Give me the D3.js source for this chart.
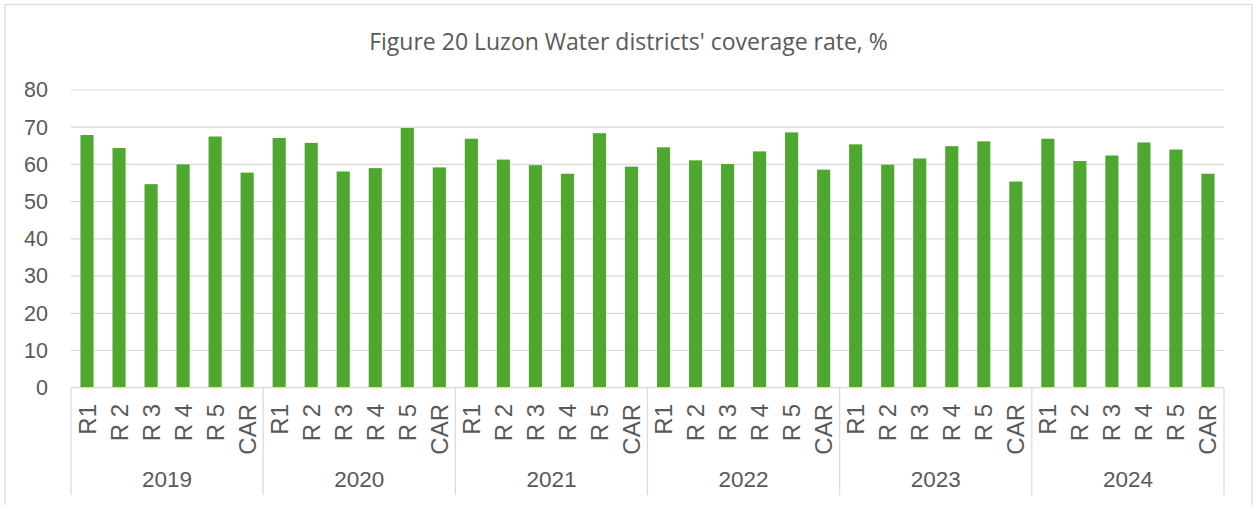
<!DOCTYPE html>
<html>
<head>
<meta charset="utf-8">
<script src="https://cdn.jsdelivr.net/npm/d3@7"></script>
<style>
  body { margin: 0; background: #fff; }
  text { font-family: "Liberation Sans", Arial, sans-serif; fill: #595959; }
  .title { font-family: "Open Sans", "Noto Sans", sans-serif; }
  .region { font-family: "Liberation Sans Narrow", "Arial Narrow", "Liberation Sans", sans-serif; }
</style>
</head>
<body>
<div class="chart"></div>
<script>
// Coverage rate, %, by region and year
var years = ["2019", "2020", "2021", "2022", "2023", "2024"];
var regions = ["R1", "R 2", "R 3", "R 4", "R 5", "CAR"];
var values2019 = [67.9, 64.4, 54.7, 60.0, 67.5, 57.8];
var values2020 = [67.1, 65.8, 58.1, 59.0, 69.8, 59.2];
var values2021 = [66.9, 61.3, 59.8, 57.5, 68.4, 59.4];
var values2022 = [64.6, 61.1, 60.1, 63.5, 68.6, 58.6];
var values2023 = [65.4, 59.9, 61.6, 64.9, 66.2, 55.4];
var values2024 = [66.9, 60.9, 62.4, 65.9, 64.0, 57.5];
var yTicks = [0, 10, 20, 30, 40, 50, 60, 70, 80];

var allValues = [values2019, values2020, values2021, values2022, values2023, values2024];

var rows = [];
years.forEach((yr, i) => {
  regions.forEach((r, j) => {
    rows.push({key: yr + "-" + j, year: yr, region: r, value: allValues[i][j]});
  });
});

var width = 1255, height = 505;
var margin = {top: 90, left: 71, right: 31, bottom: 118};
var plotBottom = height - margin.bottom + 0.7;

var svg = d3.select(".chart").append("svg")
    .attr("width", width)
    .attr("height", height);

// outer frame
svg.append("rect")
    .attr("x", 5).attr("y", 4.5)
    .attr("width", 1247).attr("height", 520)
    .attr("fill", "none")
    .attr("stroke", "#d9d9d9")
    .attr("stroke-width", 1.2);

svg.append("text")
    .attr("class", "title")
    .attr("x", 628.5)
    .attr("y", 50)
    .attr("text-anchor", "middle")
    .style("font-size", "23px")
    .text("Figure 20 Luzon Water districts' coverage rate, %");

var x = d3.scaleBand()
    .domain(rows.map((d) => d.key))
    .range([margin.left, width - margin.right])
    .paddingInner(0.59)
    .paddingOuter(0.295);

var y = d3.scaleLinear()
    .domain([0, 80])
    .range([plotBottom, margin.top]);

// gridlines
svg.append("g")
  .selectAll("line")
  .data(yTicks.slice(1))
  .enter().append("line")
    .attr("x1", margin.left)
    .attr("x2", width - margin.right)
    .attr("y1", (d) => y(d))
    .attr("y2", (d) => y(d))
    .attr("stroke", "#d9d9d9")
    .attr("stroke-width", 1.2);

// y axis labels
var yAxis = svg.append("g")
    .attr("transform", "translate(" + 48 + ",0)")
    .call(d3.axisLeft(y).tickValues(yTicks).tickSize(0).tickPadding(0));
yAxis.select(".domain").remove();
yAxis.selectAll("text")
    .style("font-size", "21.5px")
    .attr("fill", "#595959");

// bars
svg.append("g")
  .selectAll("rect")
  .data(rows)
  .enter().append("rect")
    .attr("x", (d) => x(d.key))
    .attr("width", x.bandwidth())
    .attr("y", (d) => y(d.value))
    .attr("height", (d) => y(0) - y(d.value))
    .attr("fill", "#4ea72e");

// category axis baseline
svg.append("line")
    .attr("x1", margin.left).attr("x2", width - margin.right)
    .attr("y1", y(0)).attr("y2", y(0))
    .attr("stroke", "#d9d9d9")
    .attr("stroke-width", 1.2);

// region labels (rotated)
svg.append("g")
  .selectAll("text")
  .data(rows)
  .enter().append("text")
    .attr("class", "region")
    .attr("transform", (d) => "translate(" + (x(d.key) + x.bandwidth() / 2 + 8.5) + "," + 404 + ") rotate(-90)")
    .attr("text-anchor", "end")
    .style("font-size", "24px")
    .text((d) => d.region);

// year groups
var step = x.step();
var groupWidth = step * regions.length;
var bounds = d3.range(years.length + 1).map((i) => margin.left + i * groupWidth);

svg.append("g")
  .selectAll("line")
  .data(bounds)
  .enter().append("line")
    .attr("x1", (d) => d).attr("x2", (d) => d)
    .attr("y1", y(0)).attr("y2", 495)
    .attr("stroke", "#d9d9d9")
    .attr("stroke-width", 1.2);

svg.append("g")
  .selectAll("text")
  .data(years)
  .enter().append("text")
    .attr("x", (d, i) => margin.left + (i + 0.5) * groupWidth)
    .attr("y", 487)
    .attr("text-anchor", "middle")
    .style("font-size", "22.5px")
    .text((d) => d);
</script>
</body>
</html>
